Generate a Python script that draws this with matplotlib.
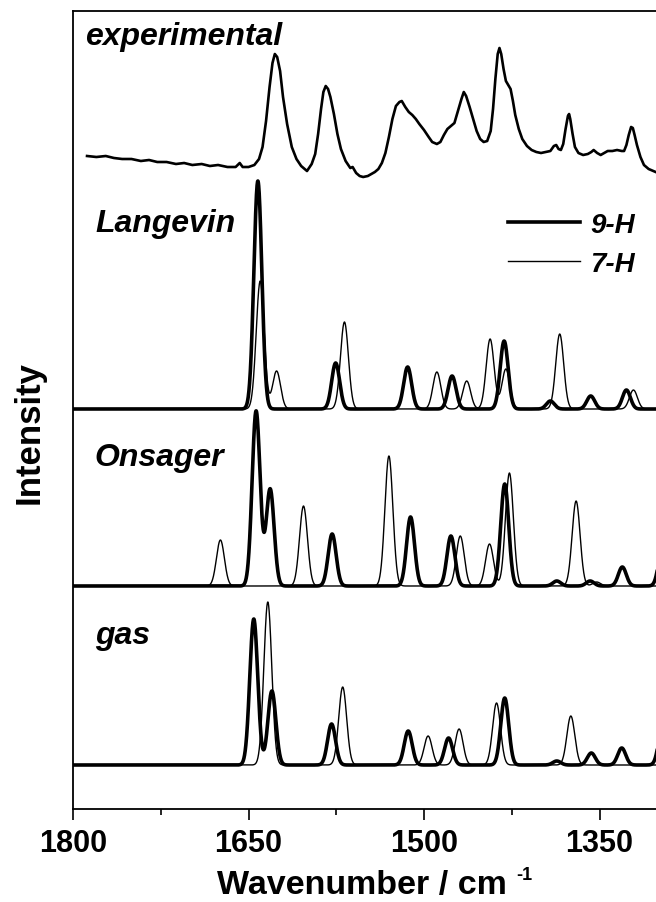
import numpy as np
import matplotlib
matplotlib.use("Agg")
import matplotlib.pyplot as plt
from matplotlib.ticker import MultipleLocator

# --- Data ---
# experimental spectrum: wavenumber (cm^-1) and intensity (arb. units)
EXP_WN = [1788, 1780, 1772, 1765, 1758, 1750, 1742, 1735, 1728, 1720, 1712, 1705, 1698,
          1690, 1683, 1676, 1668, 1661, 1657.5, 1655, 1650, 1645, 1641, 1638, 1635,
          1632, 1629.5, 1627.5, 1625.5, 1623, 1620.5, 1617, 1613, 1609, 1605, 1600,
          1596, 1593, 1590.5, 1588, 1586, 1584, 1582, 1580, 1577, 1574, 1571, 1567,
          1563, 1561, 1558, 1555, 1552, 1548, 1545, 1542, 1539, 1536, 1533, 1530,
          1527, 1524, 1521, 1519, 1516, 1513, 1510, 1507, 1504, 1500, 1496, 1493,
          1489, 1486, 1483, 1480, 1477, 1474, 1471, 1468, 1466, 1464, 1461, 1458,
          1455, 1452, 1449, 1446, 1443, 1441, 1439, 1437, 1435.5, 1434, 1432, 1430,
          1428, 1426, 1424, 1422, 1419, 1416, 1412, 1408, 1404, 1400, 1396, 1392,
          1389, 1387, 1385, 1383, 1381, 1379, 1377, 1376, 1375, 1373, 1371, 1368,
          1364, 1360, 1357, 1355, 1352, 1349, 1346, 1343, 1339, 1335, 1331, 1329,
          1327, 1325, 1323, 1321.5, 1320, 1318, 1315, 1312, 1308, 1302]
EXP_I = [653, 652, 653, 651, 650, 650, 648, 649, 647, 647, 645, 646, 644,
         645, 643, 644, 642, 642, 646, 642, 642, 644, 650, 662, 688,
         722, 746, 755, 752, 738, 712, 685, 662, 650, 643, 638,
         645, 655, 675, 700, 717, 723, 720, 712, 695, 675, 660, 648,
         641, 642, 636, 633, 632, 633, 635, 637, 640, 646, 656, 672,
         690, 703, 707, 708, 702, 697, 694, 690, 685, 679, 672, 667,
         665, 667, 674, 680, 683, 686, 698, 710, 717, 713, 702, 690,
         678, 670, 667, 668, 678, 700, 730, 755, 761, 755, 740, 728,
         724, 720, 708, 694, 680, 670, 663, 659, 657, 656, 657, 658,
         663, 664, 660, 659, 665, 680, 693, 695, 690, 675, 662, 656,
         654, 655, 657, 659, 656, 654, 656, 658, 658, 659, 658, 658,
         664, 674, 682, 681, 674, 664, 652, 644, 640, 637]

# calculated stick spectra: (position cm^-1, peak height)
LANG_9H_POS = [1642, 1575.5, 1514, 1476, 1431.5, 1392, 1357.5, 1327]
LANG_9H_HGT = [228, 46, 42, 33, 68, 8, 13, 19]
LANG_7H_POS = [1640, 1626, 1568, 1489, 1463.5, 1443.5, 1430, 1384, 1321]
LANG_7H_HGT = [128, 38, 87, 37, 28, 70, 40, 75, 19]

ONS_9H_POS = [1643.5, 1631.5, 1578.5, 1511.5, 1477, 1431, 1386.5, 1358, 1330.5, 1296]
ONS_9H_HGT = [175, 97, 52, 69, 50, 102, 5, 5, 19, 40]
ONS_7H_POS = [1674, 1603, 1530, 1469, 1444, 1427, 1370, 1352.5]
ONS_7H_HGT = [46, 80, 130, 50, 42, 113, 85, 4]

GAS_9H_POS = [1645.5, 1630, 1579, 1513.5, 1479, 1431, 1386.5, 1357, 1331, 1296]
GAS_9H_HGT = [146, 74, 41, 34, 27, 67, 4, 12, 17, 40]
GAS_7H_POS = [1633.5, 1569.5, 1496.5, 1470, 1438, 1374.5]
GAS_7H_HGT = [163, 78, 29, 36, 62, 49]

PANEL_OFFSETS = {"Langevin": 400, "Onsager": 223, "gas": 44}
FWHM = 8.0

FONT = "Liberation Sans"


def broaden(grid, positions, heights, fwhm=FWHM):
    sigma = fwhm / 2.3548
    spec = np.zeros_like(grid)
    for p, h in zip(positions, heights):
        spec += h * np.exp(-0.5 * ((grid - p) / sigma) ** 2)
    return spec


def main():
    fig = plt.figure(figsize=(6.56, 9.03), dpi=100)
    # axes runs past the right edge of the figure (as in the cropped original)
    ax = fig.add_axes([73 / 656, 93 / 903, 643.5 / 656, 798 / 903])

    grid = np.linspace(1800, 1250, 4000)
    panels = [
        ("Langevin", LANG_9H_POS, LANG_9H_HGT, LANG_7H_POS, LANG_7H_HGT),
        ("Onsager", ONS_9H_POS, ONS_9H_HGT, ONS_7H_POS, ONS_7H_HGT),
        ("gas", GAS_9H_POS, GAS_9H_HGT, GAS_7H_POS, GAS_7H_HGT),
    ]
    for name, p9, h9, p7, h7 in panels:
        off = PANEL_OFFSETS[name]
        ax.plot(grid, off + broaden(grid, p7, h7), color="black", lw=1.0,
                label="7-H" if name == "Langevin" else None, zorder=3)
        ax.plot(grid, off + broaden(grid, p9, h9), color="black", lw=2.6,
                label="9-H" if name == "Langevin" else None, zorder=2)

    ax.plot(EXP_WN, EXP_I, color="black", lw=1.9, solid_joinstyle="round")

    ax.set_xlim(1800, 1250)
    ax.set_ylim(0, 798)
    ax.xaxis.set_major_locator(MultipleLocator(150))
    ax.xaxis.set_minor_locator(MultipleLocator(75))
    ax.set_yticks([])
    ax.tick_params(axis="x", which="major", direction="out", length=8, width=1.2,
                   labelsize=22, pad=6)
    ax.tick_params(axis="x", which="minor", direction="out", length=4, width=1.2)
    for lbl in ax.get_xticklabels():
        lbl.set_fontfamily(FONT)
        lbl.set_fontweight("bold")
    for s in ax.spines.values():
        s.set_linewidth(1.3)

    lab = dict(family=FONT, weight="bold", style="italic", size=23)
    ax.text(1790, 773, "experimental", va="center", ha="left", **lab)
    ax.text(1781, 586, "Langevin", va="center", ha="left", **lab)
    ax.text(1782, 352, "Onsager", va="center", ha="left", **lab)
    ax.text(1781, 174, "gas", va="center", ha="left", **lab)

    handles, labels = ax.get_legend_handles_labels()
    order = [labels.index("9-H"), labels.index("7-H")]
    ax.legend([handles[i] for i in order], [labels[i] for i in order],
              loc="upper left", bbox_to_anchor=(508 / 656, 1 - 213 / 903),
              bbox_transform=fig.transFigure, frameon=False,
              prop=dict(family=FONT, weight="bold", style="italic", size=20),
              handlelength=2.6, handletextpad=0.35, labelspacing=0.45,
              borderpad=0, borderaxespad=0)

    fig.text(217 / 656, 1 - 886 / 903, "Wavenumber / cm", ha="left", va="center",
             family=FONT, weight="bold", size=24.5)
    fig.text(516 / 656, 1 - 876 / 903, "-1", ha="left", va="center",
             family=FONT, weight="bold", size=13)
    fig.text(29 / 656, 1 - 433 / 903, "Intensity", rotation=90,
             ha="center", va="center", family=FONT, weight="bold", size=25)

    fig.savefig("out.png", dpi=100)
    plt.close(fig)


if __name__ == "__main__":
    main()
